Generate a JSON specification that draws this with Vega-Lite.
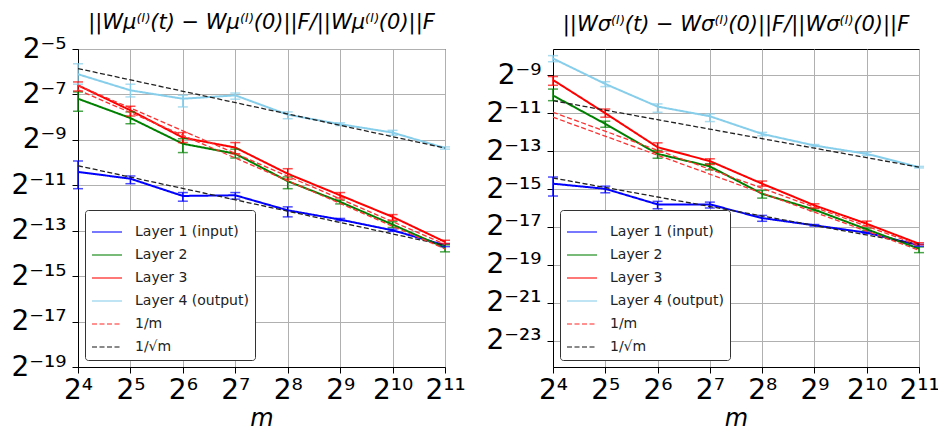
{
  "$schema": "https://vega.github.io/schema/vega-lite/v6.json",
  "background": "white",
  "padding": {"left": 10, "top": 11, "right": 5, "bottom": 5},
  "bounds": "flush",
  "spacing": 108,
  "config": {
    "view": {"stroke": "#000", "strokeWidth": 1},
    "font": "DejaVu Sans",
    "axis": {"grid": true, "gridColor": "#b0b0b0", "gridWidth": 1, "domainColor": "#000", "tickColor": "#000", "tickSize": 6, "labelFont": "DejaVu Sans", "labelFontSize": 28, "labelColor": "#000", "titleFont": "DejaVu Sans", "titleFontWeight": "normal", "titleColor": "#000", "labelOverlap": false, "labelBound": false, "labelFlush": false},
    "legend": {"orient": "bottom-left", "offset": 7, "title": null, "symbolType": "stroke", "symbolSize": 900, "symbolStrokeWidth": 1.5, "labelFont": "DejaVu Sans", "labelFontSize": 14, "labelColor": "#222", "labelOffset": 12, "padding": 6, "strokeColor": "#333", "fillColor": "white", "cornerRadius": 3, "rowPadding": -8},
    "title": {"font": "DejaVu Sans", "fontSize": 21, "fontWeight": "normal", "fontStyle": "italic", "color": "#000", "anchor": "middle"}
  },
  "datasets": {
    "mu_pts": [
      {"series": "Layer 1 (input)", "m": 16, "v": -10.41, "lo": -11.15, "hi": -9.93},
      {"series": "Layer 1 (input)", "m": 32, "v": -10.71, "lo": -10.93, "hi": -10.59},
      {"series": "Layer 1 (input)", "m": 64, "v": -11.47, "lo": -11.70, "hi": -11.32},
      {"series": "Layer 1 (input)", "m": 128, "v": -11.44, "lo": -11.61, "hi": -11.32},
      {"series": "Layer 1 (input)", "m": 256, "v": -12.10, "lo": -12.39, "hi": -11.95},
      {"series": "Layer 1 (input)", "m": 512, "v": -12.51, "lo": -12.56, "hi": -12.46},
      {"series": "Layer 1 (input)", "m": 1024, "v": -12.98, "lo": -13.03, "hi": -12.93},
      {"series": "Layer 1 (input)", "m": 2048, "v": -13.64, "lo": -13.70, "hi": -13.58},
      {"series": "Layer 2", "m": 16, "v": -7.19, "lo": -7.74, "hi": -6.89},
      {"series": "Layer 2", "m": 32, "v": -8.04, "lo": -8.29, "hi": -7.77},
      {"series": "Layer 2", "m": 64, "v": -9.17, "lo": -9.56, "hi": -8.95},
      {"series": "Layer 2", "m": 128, "v": -9.61, "lo": -9.80, "hi": -9.41},
      {"series": "Layer 2", "m": 256, "v": -10.82, "lo": -11.15, "hi": -10.63},
      {"series": "Layer 2", "m": 512, "v": -11.73, "lo": -11.82, "hi": -11.65},
      {"series": "Layer 2", "m": 1024, "v": -12.73, "lo": -12.86, "hi": -12.60},
      {"series": "Layer 2", "m": 2048, "v": -13.75, "lo": -13.93, "hi": -13.62},
      {"series": "Layer 3", "m": 16, "v": -6.60, "lo": -6.85, "hi": -6.45},
      {"series": "Layer 3", "m": 32, "v": -7.70, "lo": -7.95, "hi": -7.52},
      {"series": "Layer 3", "m": 64, "v": -8.90, "lo": -9.12, "hi": -8.68},
      {"series": "Layer 3", "m": 128, "v": -9.34, "lo": -9.61, "hi": -9.12},
      {"series": "Layer 3", "m": 256, "v": -10.49, "lo": -10.73, "hi": -10.27},
      {"series": "Layer 3", "m": 512, "v": -11.44, "lo": -11.56, "hi": -11.32},
      {"series": "Layer 3", "m": 1024, "v": -12.39, "lo": -12.54, "hi": -12.29},
      {"series": "Layer 3", "m": 2048, "v": -13.49, "lo": -13.56, "hi": -13.42},
      {"series": "Layer 4 (output)", "m": 16, "v": -6.11, "lo": -6.55, "hi": -5.65},
      {"series": "Layer 4 (output)", "m": 32, "v": -6.82, "lo": -7.11, "hi": -6.55},
      {"series": "Layer 4 (output)", "m": 64, "v": -7.19, "lo": -7.55, "hi": -7.04},
      {"series": "Layer 4 (output)", "m": 128, "v": -7.04, "lo": -7.21, "hi": -6.94},
      {"series": "Layer 4 (output)", "m": 256, "v": -7.89, "lo": -8.07, "hi": -7.77},
      {"series": "Layer 4 (output)", "m": 512, "v": -8.31, "lo": -8.37, "hi": -8.25},
      {"series": "Layer 4 (output)", "m": 1024, "v": -8.68, "lo": -8.80, "hi": -8.58},
      {"series": "Layer 4 (output)", "m": 2048, "v": -9.36, "lo": -9.41, "hi": -9.31}
    ],
    "mu_refs": [
      {"series": "1/√m", "ref": "a", "m": 16, "v": -5.86},
      {"series": "1/√m", "ref": "a", "m": 2048, "v": -9.36},
      {"series": "1/√m", "ref": "b", "m": 16, "v": -10.14},
      {"series": "1/√m", "ref": "b", "m": 2048, "v": -13.64},
      {"series": "1/m", "ref": "c", "m": 16, "v": -6.6},
      {"series": "1/m", "ref": "c", "m": 2048, "v": -13.6},
      {"series": "1/m", "ref": "d", "m": 16, "v": -6.8},
      {"series": "1/m", "ref": "d", "m": 2048, "v": -13.8}
    ],
    "sigma_pts": [
      {"series": "Layer 1 (input)", "m": 16, "v": -14.72, "lo": -15.37, "hi": -14.37},
      {"series": "Layer 1 (input)", "m": 32, "v": -14.99, "lo": -15.20, "hi": -14.85},
      {"series": "Layer 1 (input)", "m": 64, "v": -15.81, "lo": -16.04, "hi": -15.65},
      {"series": "Layer 1 (input)", "m": 128, "v": -15.81, "lo": -16.00, "hi": -15.69},
      {"series": "Layer 1 (input)", "m": 256, "v": -16.53, "lo": -16.70, "hi": -16.39},
      {"series": "Layer 1 (input)", "m": 512, "v": -16.91, "lo": -16.95, "hi": -16.87},
      {"series": "Layer 1 (input)", "m": 1024, "v": -17.30, "lo": -17.34, "hi": -17.26},
      {"series": "Layer 1 (input)", "m": 2048, "v": -17.96, "lo": -18.01, "hi": -17.91},
      {"series": "Layer 2", "m": 16, "v": -10.08, "lo": -10.35, "hi": -9.74},
      {"series": "Layer 2", "m": 32, "v": -11.57, "lo": -11.75, "hi": -11.43},
      {"series": "Layer 2", "m": 64, "v": -13.15, "lo": -13.38, "hi": -12.97},
      {"series": "Layer 2", "m": 128, "v": -13.81, "lo": -13.99, "hi": -13.67},
      {"series": "Layer 2", "m": 256, "v": -15.25, "lo": -15.48, "hi": -15.07},
      {"series": "Layer 2", "m": 512, "v": -16.09, "lo": -16.15, "hi": -16.03},
      {"series": "Layer 2", "m": 1024, "v": -17.12, "lo": -17.18, "hi": -17.06},
      {"series": "Layer 2", "m": 2048, "v": -18.14, "lo": -18.35, "hi": -18.05},
      {"series": "Layer 3", "m": 16, "v": -9.26, "lo": -9.54, "hi": -9.08},
      {"series": "Layer 3", "m": 32, "v": -11.01, "lo": -11.22, "hi": -10.79},
      {"series": "Layer 3", "m": 64, "v": -12.80, "lo": -13.06, "hi": -12.57},
      {"series": "Layer 3", "m": 128, "v": -13.53, "lo": -13.71, "hi": -13.41},
      {"series": "Layer 3", "m": 256, "v": -14.72, "lo": -14.85, "hi": -14.58},
      {"series": "Layer 3", "m": 512, "v": -15.86, "lo": -16.00, "hi": -15.78},
      {"series": "Layer 3", "m": 1024, "v": -16.83, "lo": -16.95, "hi": -16.69},
      {"series": "Layer 3", "m": 2048, "v": -17.88, "lo": -17.93, "hi": -17.83},
      {"series": "Layer 4 (output)", "m": 16, "v": -8.13, "lo": -8.30, "hi": -7.98},
      {"series": "Layer 4 (output)", "m": 32, "v": -9.47, "lo": -9.61, "hi": -9.35},
      {"series": "Layer 4 (output)", "m": 64, "v": -10.66, "lo": -10.96, "hi": -10.52},
      {"series": "Layer 4 (output)", "m": 128, "v": -11.17, "lo": -11.45, "hi": -11.05},
      {"series": "Layer 4 (output)", "m": 256, "v": -12.10, "lo": -12.20, "hi": -12.02},
      {"series": "Layer 4 (output)", "m": 512, "v": -12.71, "lo": -12.76, "hi": -12.66},
      {"series": "Layer 4 (output)", "m": 1024, "v": -13.15, "lo": -13.23, "hi": -13.07},
      {"series": "Layer 4 (output)", "m": 2048, "v": -13.85, "lo": -13.89, "hi": -13.81}
    ],
    "sigma_refs": [
      {"series": "1/√m", "ref": "a", "m": 16, "v": -10.35},
      {"series": "1/√m", "ref": "a", "m": 2048, "v": -13.85},
      {"series": "1/√m", "ref": "b", "m": 16, "v": -14.42},
      {"series": "1/√m", "ref": "b", "m": 2048, "v": -17.92},
      {"series": "1/m", "ref": "c", "m": 16, "v": -10.96},
      {"series": "1/m", "ref": "c", "m": 2048, "v": -17.96},
      {"series": "1/m", "ref": "d", "m": 16, "v": -11.22},
      {"series": "1/m", "ref": "d", "m": 2048, "v": -18.22}
    ]
  },
  "hconcat": [
    {
      "width": 367,
      "height": 318,
      "title": {"text": "||Wμ⁽ˡ⁾(t) − Wμ⁽ˡ⁾(0)||F/||Wμ⁽ˡ⁾(0)||F", "offset": 2},
      "layer": [
        {
          "data": {"name": "mu_pts"},
          "mark": {"type": "line", "strokeWidth": 2},
          "encoding": {
            "x": {"field": "m", "type": "quantitative", "scale": {"type": "log", "base": 2, "domain": [16, 2048], "nice": false}, "axis": {"values": [16, 32, 64, 128, 256, 512, 1024, 2048], "title": "m", "titleFontStyle": "italic", "titleFontSize": 24, "titlePadding": 2, "labelPadding": 3, "labelExpr": "'2' + replace(replace(replace(replace(replace(replace(replace(replace(replace(replace(toString(round(log(datum.value)/LN2)), regexp('0','g'), '⁰'), regexp('1','g'), '¹'), regexp('2','g'), '²'), regexp('3','g'), '³'), regexp('4','g'), '⁴'), regexp('5','g'), '⁵'), regexp('6','g'), '⁶'), regexp('7','g'), '⁷'), regexp('8','g'), '⁸'), regexp('9','g'), '⁹')"}},
            "y": {"field": "v", "type": "quantitative", "scale": {"domain": [-19, -5], "nice": false, "zero": false}, "axis": {"values": [-19, -17, -15, -13, -11, -9, -7, -5], "title": null, "labelPadding": 6, "labelExpr": "'2' + replace(replace(replace(replace(replace(replace(replace(replace(replace(replace(replace(toString(datum.value), '-', '⁻'), regexp('0','g'), '⁰'), regexp('1','g'), '¹'), regexp('2','g'), '²'), regexp('3','g'), '³'), regexp('4','g'), '⁴'), regexp('5','g'), '⁵'), regexp('6','g'), '⁶'), regexp('7','g'), '⁷'), regexp('8','g'), '⁸'), regexp('9','g'), '⁹')"}},
            "color": {"field": "series", "type": "nominal", "scale": {"domain": ["Layer 1 (input)", "Layer 2", "Layer 3", "Layer 4 (output)", "1/m", "1/√m"], "range": ["#0000ff", "#008000", "#ff0000", "#87ceeb", "#ff3030", "#222222"]}},
            "strokeDash": {"field": "series", "type": "nominal", "scale": {"domain": ["Layer 1 (input)", "Layer 2", "Layer 3", "Layer 4 (output)", "1/m", "1/√m"], "range": [[1, 0], [1, 0], [1, 0], [1, 0], [5, 2.5], [5, 2.5]]}}
          }
        },
        {
          "data": {"name": "mu_pts"},
          "mark": {"type": "rule", "strokeWidth": 1.5},
          "encoding": {
            "x": {"field": "m", "type": "quantitative"},
            "y": {"field": "lo", "type": "quantitative"},
            "y2": {"field": "hi"},
            "color": {"field": "series", "type": "nominal"}
          }
        },
        {
          "data": {"name": "mu_pts"},
          "mark": {"type": "tick", "orient": "horizontal", "size": 10, "thickness": 1.5},
          "encoding": {
            "x": {"field": "m", "type": "quantitative"},
            "y": {"field": "hi", "type": "quantitative"},
            "color": {"field": "series", "type": "nominal"}
          }
        },
        {
          "data": {"name": "mu_pts"},
          "mark": {"type": "tick", "orient": "horizontal", "size": 10, "thickness": 1.5},
          "encoding": {
            "x": {"field": "m", "type": "quantitative"},
            "y": {"field": "lo", "type": "quantitative"},
            "color": {"field": "series", "type": "nominal"}
          }
        },
        {
          "data": {"name": "mu_refs"},
          "mark": {"type": "line", "strokeWidth": 1.3},
          "encoding": {
            "x": {"field": "m", "type": "quantitative"},
            "y": {"field": "v", "type": "quantitative"},
            "detail": {"field": "ref"},
            "color": {"field": "series", "type": "nominal"},
            "strokeDash": {"field": "series", "type": "nominal"}
          }
        }
      ]
    },
    {
      "width": 366,
      "height": 318,
      "title": {"text": "||Wσ⁽ˡ⁾(t) − Wσ⁽ˡ⁾(0)||F/||Wσ⁽ˡ⁾(0)||F", "offset": 14},
      "layer": [
        {
          "data": {"name": "sigma_pts"},
          "mark": {"type": "line", "strokeWidth": 2},
          "encoding": {
            "x": {"field": "m", "type": "quantitative", "scale": {"type": "log", "base": 2, "domain": [16, 2048], "nice": false}, "axis": {"values": [16, 32, 64, 128, 256, 512, 1024, 2048], "title": "m", "titleFontStyle": "italic", "titleFontSize": 24, "titlePadding": 2, "labelPadding": 3, "labelExpr": "'2' + replace(replace(replace(replace(replace(replace(replace(replace(replace(replace(toString(round(log(datum.value)/LN2)), regexp('0','g'), '⁰'), regexp('1','g'), '¹'), regexp('2','g'), '²'), regexp('3','g'), '³'), regexp('4','g'), '⁴'), regexp('5','g'), '⁵'), regexp('6','g'), '⁶'), regexp('7','g'), '⁷'), regexp('8','g'), '⁸'), regexp('9','g'), '⁹')"}},
            "y": {"field": "v", "type": "quantitative", "scale": {"domain": [-24.37, -7.63], "nice": false, "zero": false}, "axis": {"values": [-23, -21, -19, -17, -15, -13, -11, -9], "title": null, "labelPadding": 6, "labelExpr": "'2' + replace(replace(replace(replace(replace(replace(replace(replace(replace(replace(replace(toString(datum.value), '-', '⁻'), regexp('0','g'), '⁰'), regexp('1','g'), '¹'), regexp('2','g'), '²'), regexp('3','g'), '³'), regexp('4','g'), '⁴'), regexp('5','g'), '⁵'), regexp('6','g'), '⁶'), regexp('7','g'), '⁷'), regexp('8','g'), '⁸'), regexp('9','g'), '⁹')"}},
            "color": {"field": "series", "type": "nominal", "scale": {"domain": ["Layer 1 (input)", "Layer 2", "Layer 3", "Layer 4 (output)", "1/m", "1/√m"], "range": ["#0000ff", "#008000", "#ff0000", "#87ceeb", "#ff3030", "#222222"]}},
            "strokeDash": {"field": "series", "type": "nominal", "scale": {"domain": ["Layer 1 (input)", "Layer 2", "Layer 3", "Layer 4 (output)", "1/m", "1/√m"], "range": [[1, 0], [1, 0], [1, 0], [1, 0], [5, 2.5], [5, 2.5]]}}
          }
        },
        {
          "data": {"name": "sigma_pts"},
          "mark": {"type": "rule", "strokeWidth": 1.5},
          "encoding": {
            "x": {"field": "m", "type": "quantitative"},
            "y": {"field": "lo", "type": "quantitative"},
            "y2": {"field": "hi"},
            "color": {"field": "series", "type": "nominal"}
          }
        },
        {
          "data": {"name": "sigma_pts"},
          "mark": {"type": "tick", "orient": "horizontal", "size": 10, "thickness": 1.5},
          "encoding": {
            "x": {"field": "m", "type": "quantitative"},
            "y": {"field": "hi", "type": "quantitative"},
            "color": {"field": "series", "type": "nominal"}
          }
        },
        {
          "data": {"name": "sigma_pts"},
          "mark": {"type": "tick", "orient": "horizontal", "size": 10, "thickness": 1.5},
          "encoding": {
            "x": {"field": "m", "type": "quantitative"},
            "y": {"field": "lo", "type": "quantitative"},
            "color": {"field": "series", "type": "nominal"}
          }
        },
        {
          "data": {"name": "sigma_refs"},
          "mark": {"type": "line", "strokeWidth": 1.3},
          "encoding": {
            "x": {"field": "m", "type": "quantitative"},
            "y": {"field": "v", "type": "quantitative"},
            "detail": {"field": "ref"},
            "color": {"field": "series", "type": "nominal"},
            "strokeDash": {"field": "series", "type": "nominal"}
          }
        }
      ]
    }
  ],
  "resolve": {
    "scale": {"color": "independent", "strokeDash": "independent", "x": "independent", "y": "independent"},
    "legend": {"color": "independent", "strokeDash": "independent"}
  }
}
